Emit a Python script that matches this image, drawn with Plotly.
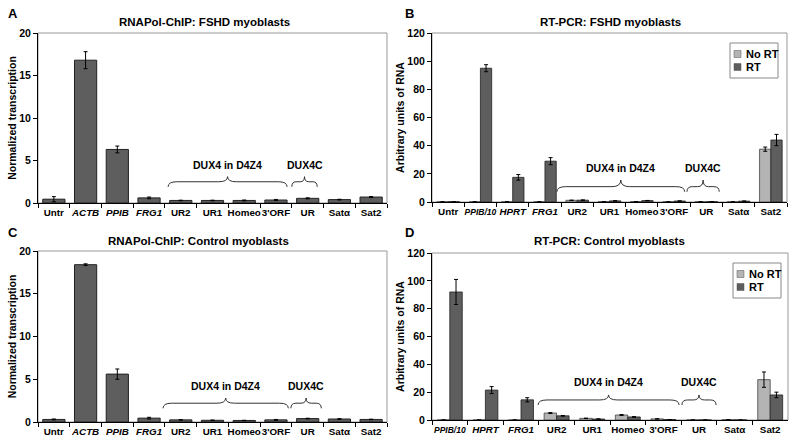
import plotly.graph_objects as go

# ---------------- data ----------------
cats_chip = ["Untr", "ACTB", "PPIB", "FRG1", "UR2", "UR1", "Homeo", "3'ORF", "UR", "Satα", "Sat2"]
ticks_chip = ["Untr", "<i>ACTB</i>", "<i>PPIB</i>", "<i>FRG1</i>", "UR2", "UR1", "Homeo", "3'ORF", "UR", "Satα", "Sat2"]

chip_fshd = [0.45, 16.8, 6.3, 0.6, 0.3, 0.3, 0.3, 0.35, 0.55, 0.4, 0.7]
chip_fshd_err = [0.3, 1.0, 0.4, 0.1, 0.03, 0.03, 0.05, 0.07, 0.06, 0.04, 0.06]

chip_ctrl = [0.3, 18.4, 5.6, 0.45, 0.25, 0.2, 0.18, 0.25, 0.4, 0.35, 0.3]
chip_ctrl_err = [0.05, 0.1, 0.6, 0.1, 0.03, 0.03, 0.02, 0.05, 0.04, 0.04, 0.03]

cats_rt_b = ["Untr", "PPIB/10", "HPRT", "FRG1", "UR2", "UR1", "Homeo", "3'ORF", "UR", "Satα", "Sat2"]
ticks_rt_b = ["Untr", "<i><span style='font-size:8.5px'>PPIB/10</span></i>", "<i>HPRT</i>", "<i>FRG1</i>",
              "UR2", "UR1", "Homeo", "3'ORF", "UR", "Satα", "Sat2"]
b_nort = [0.1, 0.1, 0.1, 0.1, 1.2, 0.2, 0.3, 0.1, 0.1, 0.1, 37.5]
b_nort_err = [0, 0, 0, 0, 0.1, 0, 0, 0, 0, 0, 1.5]
b_rt = [0.2, 95.0, 17.5, 29.0, 1.3, 0.8, 1.0, 0.7, 0.2, 0.6, 44.0]
b_rt_err = [0, 2.5, 2.0, 2.5, 0.2, 0.1, 0.1, 0.1, 0, 0.1, 4.0]

cats_rt_d = ["PPIB/10", "HPRT", "FRG1", "UR2", "UR1", "Homeo", "3'ORF", "UR", "Satα", "Sat2"]
ticks_rt_d = ["<i><span style='font-size:8.5px'>PPIB/10</span></i>", "<i>HPRT</i>", "<i>FRG1</i>",
              "UR2", "UR1", "Homeo", "3'ORF", "UR", "Satα", "Sat2"]
d_nort = [0.0, 0.0, 0.0, 5.0, 1.2, 3.6, 0.8, 0.0, 0.2, 29.0]
d_nort_err = [0, 0, 0, 0.3, 0.1, 0.3, 0.05, 0, 0, 5.5]
d_rt = [92.0, 21.5, 14.5, 3.0, 0.7, 2.2, 0.3, 0.0, 0.0, 18.0]
d_rt_err = [9.0, 2.5, 1.5, 0.2, 0.05, 0.2, 0.05, 0, 0, 2.0]

series_names = ["No RT", "RT"]
titles = ["RNAPol-ChIP: FSHD myoblasts", "RT-PCR: FSHD myoblasts",
          "RNAPol-ChIP: Control myoblasts", "RT-PCR: Control myoblasts"]
panel_letters = ["A", "B", "C", "D"]

# ---------------- style ----------------
FONT = "Liberation Sans, Arial, sans-serif"
DARK = "#5e5e5e"
LIGHT = "#b4b4b4"

fig = go.Figure()

def err(arr):
    return dict(type="data", array=arr, visible=True, color="black", thickness=1, width=2)

fig.add_trace(go.Bar(x=cats_chip, y=chip_fshd, error_y=err(chip_fshd_err),
                     marker=dict(color=DARK, line=dict(color="#222", width=1)), xaxis="x", yaxis="y"))
fig.add_trace(go.Bar(x=cats_rt_b, y=b_nort, error_y=err(b_nort_err), name=series_names[0],
                     marker=dict(color=LIGHT, line=dict(color="#444", width=0.8)), xaxis="x2", yaxis="y2", offsetgroup="n"))
fig.add_trace(go.Bar(x=cats_rt_b, y=b_rt, error_y=err(b_rt_err), name=series_names[1],
                     marker=dict(color=DARK, line=dict(color="#222", width=0.8)), xaxis="x2", yaxis="y2", offsetgroup="r"))
fig.add_trace(go.Bar(x=cats_chip, y=chip_ctrl, error_y=err(chip_ctrl_err),
                     marker=dict(color=DARK, line=dict(color="#222", width=1)), xaxis="x3", yaxis="y3"))
fig.add_trace(go.Bar(x=cats_rt_d, y=d_nort, error_y=err(d_nort_err), name=series_names[0],
                     marker=dict(color=LIGHT, line=dict(color="#444", width=0.8)), xaxis="x4", yaxis="y4", offsetgroup="n"))
fig.add_trace(go.Bar(x=cats_rt_d, y=d_rt, error_y=err(d_rt_err), name=series_names[1],
                     marker=dict(color=DARK, line=dict(color="#222", width=0.8)), xaxis="x4", yaxis="y4", offsetgroup="r"))

W, H = 800, 443
def px_x(p): return p / W
def px_y(p): return 1 - p / H

doms = {
    "A": ([px_x(38), px_x(387)], [px_y(203), px_y(33)]),
    "B": ([px_x(432), px_x(787)], [px_y(202), px_y(33)]),
    "C": ([px_x(38), px_x(387)], [px_y(422), px_y(251)]),
    "D": ([px_x(432), px_x(788)], [px_y(420), px_y(253)]),
}

tickfont = dict(family=FONT, size=9.8, color="black", weight="bold")
def xax(dom, anchor, cats, ticks):
    return dict(domain=dom, anchor=anchor, type="category", categoryorder="array", categoryarray=cats,
                tickvals=cats, ticktext=ticks, tickangle=0, showline=True, linecolor="black", linewidth=1,
                ticks="outside", tickson="boundaries", ticklen=4, tickcolor="black", automargin=False,
                tickfont=tickfont, showgrid=False, fixedrange=True)

def yax(dom, anchor, rng, dtick, title):
    return dict(domain=dom, anchor=anchor, range=rng, dtick=dtick, showline=True, linecolor="black",
                linewidth=1, ticks="outside", ticklen=4, tickcolor="black", showgrid=False, zeroline=False,
                automargin=False,
                tickfont=dict(family=FONT, size=10.5, color="black", weight="bold"),
                title=dict(text=title, font=dict(family=FONT, size=10.5, color="black", weight="bold"), standoff=0))

fig.update_layout(
    width=W, height=H, margin=dict(l=0, r=0, t=0, b=0, autoexpand=False),
    plot_bgcolor="white", paper_bgcolor="white", showlegend=False,
    font=dict(family=FONT, color="black"),
    barmode="group", bargap=0.3, bargroupgap=0.0,
    xaxis=xax(doms["A"][0], "y", cats_chip, ticks_chip),
    yaxis=yax(doms["A"][1], "x", [0, 20], 5, "Normalized transcription"),
    xaxis2=xax(doms["B"][0], "y2", cats_rt_b, ticks_rt_b),
    yaxis2=yax(doms["B"][1], "x2", [0, 120], 20, "Arbitrary units of RNA"),
    xaxis3=xax(doms["C"][0], "y3", cats_chip, ticks_chip),
    yaxis3=yax(doms["C"][1], "x3", [0, 20], 5, "Normalized transcription"),
    xaxis4=xax(doms["D"][0], "y4", cats_rt_d, ticks_rt_d),
    yaxis4=yax(doms["D"][1], "x4", [0, 120], 20, "Arbitrary units of RNA"),
)

shapes = []
annotations = []
for (xa, ya) in [("x", "y"), ("x2", "y2"), ("x3", "y3"), ("x4", "y4")]:
    shapes.append(dict(type="rect", xref=f"{xa} domain", yref=f"{ya} domain", x0=0, x1=1, y0=0, y1=1,
                       line=dict(color="#999", width=1), layer="below"))

def brace(xa, ya, x0, x1, yb, ym, yt):
    xm = (x0 + x1) / 2
    d = min(0.025, (x1 - x0) / 6)
    path = (f"M {x0},{yb} Q {x0},{ym} {x0 + d},{ym} L {xm - d},{ym} Q {xm},{ym} {xm},{yt} "
            f"Q {xm},{ym} {xm + d},{ym} L {x1 - d},{ym} Q {x1},{ym} {x1},{yb}")
    return dict(type="path", xref=f"{xa} domain", yref=ya, path=path, line=dict(color="#333", width=1))

brace_spec = [
    ("x", "y", 11, (4.1, 7.85), (8.0, 8.8), 1.9, 2.5, 3.1, 3.5),
    ("x2", "y2", 11, (3.87, 7.83), (7.9, 8.9), 7.3, 10.9, 15.6, 18.5),
    ("x3", "y3", 11, (3.94, 7.89), (7.97, 8.93), 1.6, 2.2, 2.8, 3.3),
    ("x4", "y4", 10, (2.98, 6.94), (7.02, 7.98), 10.8, 14.4, 18.0, 21.5),
]
lab_font = dict(family=FONT, size=10.5, color="black", weight="bold")
for xa, ya, n, big, small, yb, ym, yt, ly in brace_spec:
    shapes.append(brace(xa, ya, big[0] / n, big[1] / n, yb, ym, yt))
    shapes.append(brace(xa, ya, small[0] / n, small[1] / n, yb, ym, yt))
    annotations.append(dict(xref=f"{xa} domain", yref=ya, x=(big[0] + big[1]) / 2 / n, y=ly, text="DUX4 in D4Z4",
                            showarrow=False, font=lab_font, xanchor="center", yanchor="bottom"))
    annotations.append(dict(xref=f"{xa} domain", yref=ya, x=(small[0] + small[1]) / 2 / n, y=ly, text="DUX4C",
                            showarrow=False, font=lab_font, xanchor="center", yanchor="bottom"))

# manual legends (panels B and D)
for (bx, by) in [(730, 43), (733, 263)]:
    shapes.append(dict(type="rect", xref="paper", yref="paper", x0=px_x(bx), x1=px_x(bx + 48),
                       y0=px_y(by + 35), y1=px_y(by), line=dict(color="#888", width=1), fillcolor="white"))
    for k, (nm, col) in enumerate(zip(series_names, [LIGHT, DARK])):
        cy = by + 11 + k * 13
        shapes.append(dict(type="rect", xref="paper", yref="paper", x0=px_x(bx + 4), x1=px_x(bx + 11),
                           y0=px_y(cy + 3.5), y1=px_y(cy - 3.5), line=dict(color="#555", width=0.5), fillcolor=col))
        annotations.append(dict(xref="paper", yref="paper", x=px_x(bx + 14), y=px_y(cy), text=nm, showarrow=False,
                                xanchor="left", yanchor="middle",
                                font=dict(family=FONT, size=11, color="black", weight="bold")))

title_pos = [(205, 22), (610, 22), (198, 241), (609, 241)]
letter_pos = [(13, 14), (410, 14), (13, 233), (410, 233)]
for t, (tx, ty) in zip(titles, title_pos):
    annotations.append(dict(xref="paper", yref="paper", x=px_x(tx), y=px_y(ty), text=t, showarrow=False,
                            font=dict(family=FONT, size=11.5, color="black", weight="bold"),
                            xanchor="center", yanchor="middle"))
for L, (lx, ly) in zip(panel_letters, letter_pos):
    annotations.append(dict(xref="paper", yref="paper", x=px_x(lx), y=px_y(ly), text=L, showarrow=False,
                            font=dict(family=FONT, size=13, color="black", weight="bold"),
                            xanchor="center", yanchor="middle"))

fig.update_layout(shapes=shapes, annotations=annotations)
fig.write_html("out.html", config={"displayModeBar": False},
               post_script="document.body.style.margin='0';document.body.style.overflow='hidden';")
